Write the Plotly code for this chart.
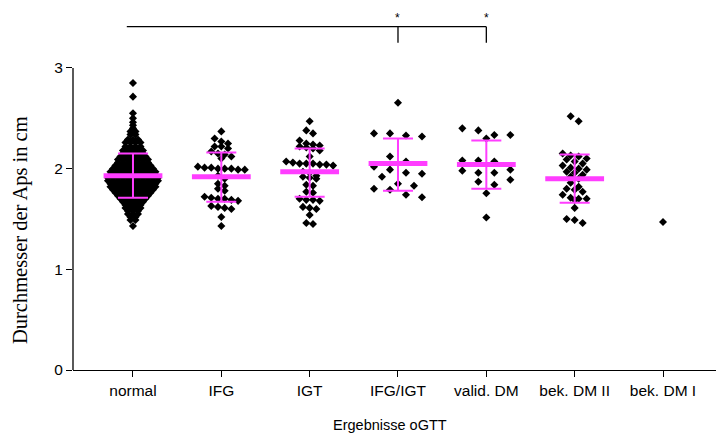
import plotly.graph_objects as go

categories = ["normal", "IFG", "IGT", "IFG/IGT", "valid. DM", "bek. DM II", "bek. DM I"]

# normal group: levels read from the dense blob and count of points at each level
normal_levels = [2.85, 2.715, 2.55, 2.50, 2.46, 2.43, 2.40, 2.37, 2.34, 2.29, 2.26, 2.22, 2.18, 2.15,
                 2.12, 2.09, 2.06, 2.03, 2.00, 1.97, 1.94, 1.91, 1.88, 1.85, 1.82, 1.79, 1.76, 1.73,
                 1.70, 1.67, 1.64, 1.61, 1.58, 1.55, 1.52, 1.49, 1.43]
normal_counts = [1, 1, 1, 1, 1, 1, 1, 2, 2, 3, 4, 4, 5, 5,
                 6, 7, 7, 8, 9, 10, 10, 11, 11, 10, 10, 9, 8, 7,
                 6, 5, 4, 4, 3, 3, 2, 2, 1]
ifg = [2.37, 2.30, 2.27, 2.25, 2.22, 2.22, 2.20, 2.17, 2.15, 2.14, 2.12, 2.10, 2.02, 2.01, 2.01, 2.00,
       2.00, 2.00, 1.99, 1.99, 1.93, 1.90, 1.85, 1.83, 1.80, 1.78, 1.72, 1.71, 1.70, 1.70, 1.69, 1.68,
       1.63, 1.62, 1.61, 1.60, 1.52, 1.43]
igt = [2.47, 2.38, 2.35, 2.28, 2.25, 2.24, 2.23, 2.22, 2.21, 2.20, 2.18, 2.12, 2.07, 2.06, 2.05, 2.05,
       2.05, 2.04, 2.04, 2.03, 1.97, 1.96, 1.93, 1.92, 1.91, 1.90, 1.84, 1.83, 1.77, 1.76, 1.70, 1.69,
       1.69, 1.68, 1.62, 1.61, 1.60, 1.54, 1.46, 1.45]
ifg_igt = [2.655, 2.35, 2.35, 2.33, 2.32, 2.12, 2.07, 2.02, 1.99, 1.96, 1.95, 1.92, 1.85, 1.83, 1.80,
           1.79, 1.74, 1.715]
valid_dm = [2.40, 2.38, 2.335, 2.335, 2.30, 2.08, 2.08, 2.07, 1.99, 1.98, 1.96, 1.96, 1.89, 1.87, 1.84,
            1.755, 1.515]
bek_dm2 = [2.52, 2.47, 2.15, 2.13, 2.12, 2.10, 2.09, 2.07, 2.05, 2.03, 2.01, 2.00, 1.99, 1.97, 1.96,
           1.94, 1.92, 1.90, 1.86, 1.82, 1.80, 1.79, 1.77, 1.74, 1.71, 1.70, 1.70, 1.69, 1.61, 1.50,
           1.49, 1.46]
bek_dm1 = [1.47]

means = [1.93, 1.92, 1.97, 2.05, 2.04, 1.90]
sd_hi = [2.15, 2.16, 2.20, 2.30, 2.28, 2.14]
sd_lo = [1.71, 1.67, 1.72, 1.78, 1.80, 1.66]

y_ticks = [0, 1, 2, 3]
bracket_y = 3.41
bracket_drop = 3.25
star_y = 3.50

normal = []
for lv, c in zip(normal_levels, normal_counts):
    normal += [lv] * c

groups = [normal, ifg, igt, ifg_igt, valid_dm, bek_dm2, bek_dm1]
# layout params per group: (row tolerance in value units, spacing px, max span px)
params = [(0.01, 5.0, 60), (0.05, 6.7, 48), (0.05, 6.7, 48), (0.10, 16, 50),
          (0.10, 16, 50), (0.05, 8.0, 40), (0.05, 8, 40)]

PX_PER_CAT = 88.33


def swarm(vals, tol, sp, span):
    s = sorted(vals, reverse=True)
    rows = []
    for v in s:
        if rows and rows[-1][0] - v <= tol:
            rows[-1].append(v)
        else:
            rows.append([v])
    xs, ys = [], []
    for r in rows:
        n = len(r)
        step = sp if n <= 1 else min(sp, span / (n - 1))
        for i, v in enumerate(r):
            xs.append((i - (n - 1) / 2) * step / PX_PER_CAT)
            ys.append(v)
    return xs, ys


fig = go.Figure()
for gi, (vals, p) in enumerate(zip(groups, params)):
    ox, oy = swarm(vals, *p)
    fig.add_trace(go.Scatter(
        x=[gi + o for o in ox], y=oy, mode="markers",
        marker=dict(symbol="diamond", size=6.2, color="black", line=dict(width=0)),
        showlegend=False, hoverinfo="skip"))

mag = "#FF3DFF"
idx = list(range(len(means)))
fig.add_trace(go.Scatter(
    x=idx, y=means, mode="markers",
    marker=dict(symbol="line-ew", size=42, color=mag, line=dict(width=5, color=mag)),
    error_y=dict(type="data", symmetric=False,
                 array=[h - m for h, m in zip(sd_hi, means)],
                 arrayminus=[m - l for m, l in zip(means, sd_lo)],
                 color=mag, thickness=2, width=15),
    showlegend=False, hoverinfo="skip"))

# y axis line only from 0 to 3
fig.add_shape(type="line", xref="paper", yref="y", x0=0, x1=0, y0=0, y1=3,
              line=dict(color="black", width=1.3))
# significance bracket
fig.add_shape(type="line", xref="x", yref="y", x0=-0.07, x1=4, y0=bracket_y, y1=bracket_y,
              line=dict(color="black", width=1.3))
for cx in [3, 4]:
    fig.add_shape(type="line", xref="x", yref="y", x0=cx, x1=cx, y0=bracket_drop, y1=bracket_y,
                  line=dict(color="black", width=1.3))
    fig.add_annotation(x=cx, y=star_y, xref="x", yref="y", text="*", showarrow=False,
                       font=dict(family="Arial, Liberation Sans", size=12, color="black"))

fig.add_annotation(x=-0.0824, y=1.39, xref="paper", yref="y", text="Durchmesser der Aps in cm",
                   textangle=-90, showarrow=False, xanchor="center", yanchor="middle",
                   font=dict(family="Times New Roman, Liberation Serif, serif", size=20.5, color="black"))
fig.add_annotation(x=0.493, y=-0.1486, xref="paper", yref="paper", text="Ergebnisse oGTT",
                   showarrow=False, xanchor="center", yanchor="middle",
                   font=dict(family="Arial, Liberation Sans", size=14.5, color="black"))

fig.update_layout(
    width=716, height=438, margin=dict(l=73, r=0, t=0, b=68),
    paper_bgcolor="white", plot_bgcolor="white",
    xaxis=dict(range=[-0.679, 6.6], tickmode="array", tickvals=list(range(7)), ticktext=categories,
               ticks="outside", ticklen=6, tickcolor="black", tickwidth=1.3,
               showline=True, linecolor="black", linewidth=1.3, showgrid=False, zeroline=False,
               tickfont=dict(family="Arial, Liberation Sans", size=15.5, color="black")),
    yaxis=dict(range=[0, 3.675], tickmode="array", tickvals=y_ticks,
               ticks="outside", ticklen=6, tickcolor="black", tickwidth=1.3,
               showline=False, showgrid=False, zeroline=False,
               tickfont=dict(family="Arial, Liberation Sans", size=15.5, color="black")),
)

fig.write_html("out.html")
